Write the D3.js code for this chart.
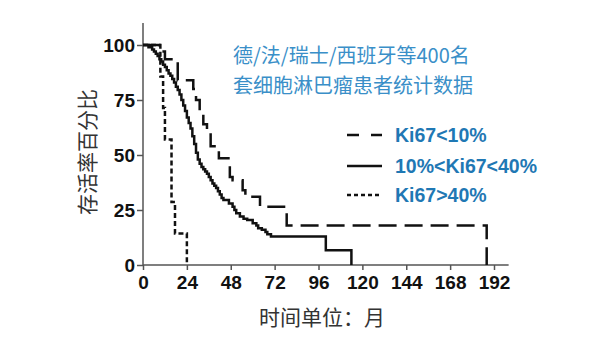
<!DOCTYPE html>
<html><head><meta charset="utf-8">
<script src="https://cdn.jsdelivr.net/npm/d3@7"></script>
<style>body{margin:0;background:#fff}svg{display:block}</style>
</head><body>
<svg id="c" width="616" height="357"></svg>
<script>
// Data
const xTicks = [0,24,48,72,96,120,144,168,192];
const yTicks = [0,25,50,75,100];
const lowMonths = [0,9,12,19,27.5,29,31,33,35,37,41.5,47.5,49,54.5,56,64,78.6,188];
const lowSurv   = [100,97,93.5,84,80,75,70,64,60,54,48.5,40,38.5,34,31,26.5,18,0];
const midMonths = [0,3,5,6,7,8,9,10,11,12,13,14,15,16,17,18,19,20,21,22,23,24,25,26,27,28,29,30,31,32,33,34,35,36,37,38,39,40,41,42,43,44,47,49,50,51,53,55,57,60,62,63,65,67,68,70,100,114];
const midSurv   = [100,99,98,97,96,95,93.5,92.5,91,90,88.5,87,86,84.5,83,81,79.5,77.5,75,72.5,70,67,64.5,62,58.5,55,51,48,46,44.5,43.5,42.5,41.5,40,38.5,37,36,35,33.5,32,30.5,29.5,28,26.5,25,23.5,22,21,20.5,19,18,16.7,16,15,14,13,6.7,0];
const highMonths = [0,9.5,11,12,15.6,17.5,24];
const highSurv   = [100,85.7,71.4,57.1,28.6,14.3,0];
const legendLabels = ["Ki67<10%","10%<Ki67<40%","Ki67>40%"];
const titleLines = ["德/法/瑞士/西班牙等400名","套细胞淋巴瘤患者统计数据"];
const xTitle = "时间单位：月";
const yTitle = "存活率百分比";

const svg = d3.select("#c");
const x = d3.scaleLinear().domain([0,192]).range([143,494]);
const y = d3.scaleLinear().domain([0,100]).range([265,45]);

// axes
const axisColor = "#555";
const gx = svg.append("g").attr("transform",`translate(0,${y(0)})`)
  .call(d3.axisBottom(x).tickValues(xTicks).tickSize(5).tickSizeOuter(0).tickPadding(6));
const gy = svg.append("g").attr("transform",`translate(${x(0)},0)`)
  .call(d3.axisLeft(y).tickValues(yTicks).tickSize(6).tickSizeOuter(0).tickPadding(2));
[gx,gy].forEach(g=>{
  g.select(".domain").remove();
  g.selectAll("line").attr("stroke",axisColor).attr("stroke-width",1.5);
  g.selectAll("text").attr("font-family","'Liberation Sans', Arial, sans-serif")
   .attr("font-weight","bold").attr("font-size",19).attr("fill","#111");
});
gy.selectAll("text").attr("dy","0.35em");
svg.append("line").attr("x1",x(0)).attr("x2",x(0)).attr("y1",y(0)).attr("y2",y(110))
  .attr("stroke",axisColor).attr("stroke-width",1.5);
svg.append("line").attr("x1",x(0)).attr("x2",x(200)).attr("y1",y(0)).attr("y2",y(0))
  .attr("stroke",axisColor).attr("stroke-width",1.5);

// curves
const line = d3.line().x(d=>x(d[0])).y(d=>y(d[1])).curve(d3.curveStepAfter);
const series = [
  {m:lowMonths,s:lowSurv,dash:"18,8"},
  {m:midMonths,s:midSurv,dash:null},
  {m:highMonths,s:highSurv,dash:"5,3"}
];
series.forEach(sr=>{
  const pts = sr.m.map((t,i)=>[t,sr.s[i]]);
  svg.append("path").attr("d",line(pts)).attr("fill","none").attr("stroke","#111")
    .attr("stroke-width",2.5).attr("stroke-dasharray",sr.dash);
});

// legend
const legY = [135,166,195];
const legDash = ["12,12",null,"4,3"];
legendLabels.forEach((lab,i)=>{
  svg.append("line").attr("x1",347).attr("x2",382).attr("y1",legY[i]).attr("y2",legY[i])
    .attr("stroke","#111").attr("stroke-width",2.5).attr("stroke-dasharray",legDash[i]);
  svg.append("text").attr("x",395).attr("y",legY[i]).attr("dy","0.36em")
    .attr("font-family","'Liberation Sans', Arial, sans-serif").attr("font-weight","bold")
    .attr("font-size",19.5).attr("fill","#1f78b4").text(lab);
});

// title
titleLines.forEach((t,i)=>{
  svg.append("text").attr("x",233).attr("y",[56,86][i]).attr("dy","0.36em")
    .attr("font-family","'Noto Sans CJK SC', sans-serif").attr("font-size",20)
    .attr("fill","#3a8fc8").text(t);
});

// axis titles
svg.append("text").attr("transform","translate(87,152) rotate(-90)").attr("text-anchor","middle")
  .attr("dy","0.36em").attr("font-family","'Noto Sans CJK SC', sans-serif").attr("font-size",21)
  .attr("fill","#333").text(yTitle);
svg.append("text").attr("x",322).attr("y",317).attr("text-anchor","middle").attr("dy","0.36em")
  .attr("font-family","'Noto Sans CJK SC', sans-serif").attr("font-size",21)
  .attr("fill","#333").text(xTitle);
</script>
</body></html>
